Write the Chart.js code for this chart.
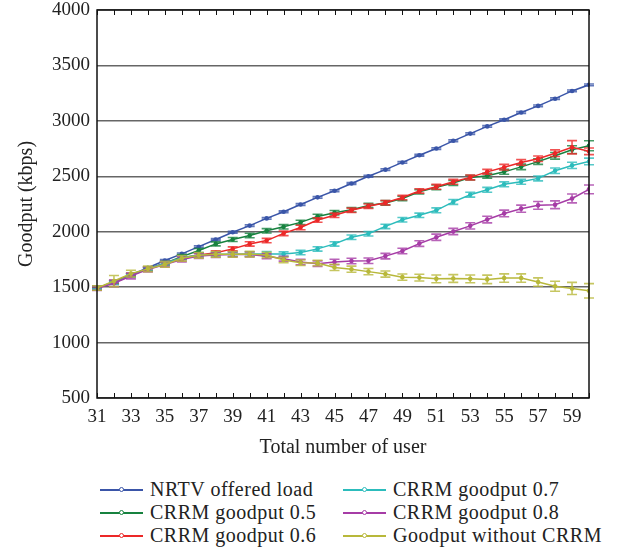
<!DOCTYPE html>
<html>
<head>
<meta charset="utf-8">
<title>Goodput vs users</title>
<script src="https://cdn.jsdelivr.net/npm/chart.js@4/dist/chart.umd.min.js"></script>
<style>
    body { margin: 0; background: #fff; font-family: "Liberation Serif", serif; }
    #wrap { position: relative; width: 637px; height: 558px; }
    #chart-box { position: absolute; left: 0; top: 0; width: 637px; height: 462px; }
    #legend {
        position: absolute; left: 100px; top: 478px;
        display: grid; grid-template-columns: 243px 260px;
        grid-template-rows: repeat(3, 23px); grid-auto-flow: column;
    }
    .item { display: flex; align-items: center; font-size: 20px; letter-spacing: 0.5px; color: #222; white-space: nowrap; }
    .swatch { position: relative; width: 43px; height: 2px; margin-right: 7px; }
    .swatch i {
        position: absolute; left: 19px; top: -2px; width: 3px; height: 3px;
        border-radius: 50%; border: 1.5px solid; background: #fff;
    }
</style>
</head>
<body>
<div id="wrap">
    <div id="chart-box"><canvas id="lineChart"></canvas></div>
    <div id="legend"></div>
</div>
<script>
// Data
const users = [31, 32, 33, 34, 35, 36, 37, 38, 39, 40, 41, 42, 43, 44, 45,
               46, 47, 48, 49, 50, 51, 52, 53, 54, 55, 56, 57, 58, 59, 60];

const nrtvLoad = [1490, 1550, 1610, 1675, 1740, 1800, 1865, 1930, 1995, 2055, 2120, 2180, 2245, 2310, 2370,
                  2435, 2500, 2560, 2625, 2690, 2750, 2820, 2885, 2950, 3010, 3075, 3135, 3200, 3270, 3325];
const crrm05 = [1490, 1545, 1610, 1665, 1715, 1775, 1830, 1890, 1930, 1966, 2008, 2044, 2084, 2138, 2172,
                2198, 2237, 2260, 2300, 2360, 2400, 2440, 2488, 2505, 2540, 2585, 2632, 2685, 2740, 2775];
const crrm06 = [1490, 1545, 1610, 1665, 1715, 1765, 1790, 1810, 1845, 1890, 1920, 1985, 2038, 2105, 2148,
                2193, 2230, 2262, 2308, 2368, 2405, 2450, 2490, 2540, 2582, 2625, 2658, 2708, 2762, 2725];
const crrm07 = [1495, 1540, 1605, 1665, 1715, 1765, 1790, 1797, 1797, 1799, 1800, 1798, 1812, 1845, 1890,
                1950, 1982, 2048, 2108, 2148, 2193, 2269, 2334, 2378, 2428, 2450, 2481, 2550, 2598, 2634];
const crrm08 = [1490, 1535, 1600, 1660, 1705, 1750, 1780, 1790, 1795, 1795, 1778, 1757, 1727, 1712, 1727,
                1736, 1738, 1780, 1826, 1893, 1950, 2002, 2053, 2110, 2165, 2208, 2238, 2243, 2300, 2382];
const noCrrm = [1492, 1555, 1622, 1665, 1705, 1760, 1787, 1796, 1796, 1798, 1790, 1745, 1720, 1718, 1678,
                1662, 1640, 1618, 1590, 1586, 1575, 1578, 1575, 1570, 1582, 1582, 1546, 1508, 1488, 1467];

// Error bar half widths
const nrtvErr = [8, 8, 8, 8, 8, 8, 8, 8, 8, 8, 8, 8, 8, 8, 8,
                 8, 8, 8, 8, 8, 8, 8, 8, 8, 8, 8, 8, 8, 8, 8];
const crrm05Err = [15, 15, 15, 15, 15, 18, 18, 18, 18, 20, 20, 20, 20, 20, 20,
                   20, 20, 20, 20, 20, 22, 22, 22, 22, 22, 25, 25, 30, 35, 45];
const crrm06Err = [15, 15, 15, 15, 15, 18, 18, 18, 18, 20, 20, 20, 20, 20, 20,
                   20, 20, 20, 20, 20, 22, 22, 22, 22, 25, 25, 25, 30, 60, 30];
const crrm07Err = [15, 15, 15, 15, 15, 18, 18, 18, 18, 20, 20, 20, 20, 20, 20,
                   20, 20, 20, 20, 20, 22, 22, 22, 22, 22, 22, 22, 25, 28, 30];
const crrm08Err = [20, 30, 25, 22, 22, 22, 22, 22, 22, 22, 22, 22, 25, 25, 25,
                   25, 25, 25, 25, 25, 28, 28, 28, 30, 30, 32, 35, 35, 40, 40];
const noCrrmErr = [20, 50, 30, 25, 25, 25, 25, 25, 25, 25, 25, 25, 25, 25, 28,
                   28, 28, 28, 28, 30, 35, 35, 35, 38, 38, 38, 38, 45, 55, 65];

const seriesNames = ['NRTV offered load', 'CRRM goodput 0.5', 'CRRM goodput 0.6',
                     'CRRM goodput 0.7', 'CRRM goodput 0.8', 'Goodput without CRRM'];
const seriesColors = ['#3a55a8', '#17823f', '#ec2828', '#2cbcbc', '#a63ca6', '#b8b83a'];

const xTickLabels = [31, 33, 35, 37, 39, 41, 43, 45, 47, 49, 51, 53, 55, 57, 59];
const yTickLabels = [500, 1000, 1500, 2000, 2500, 3000, 3500, 4000];

const seriesValues = [nrtvLoad, crrm05, crrm06, crrm07, crrm08, noCrrm];
const seriesErrors = [nrtvErr, crrm05Err, crrm06Err, crrm07Err, crrm08Err, noCrrmErr];

// Error bars, drawn right after each line so the stacking matches
const errorBars = {
    id: 'errorBars',
    afterDatasetDraw(chart, args) {
        const ds = chart.data.datasets[args.index];
        const { ctx, scales } = chart;
        ctx.save();
        ctx.strokeStyle = ds.borderColor;
        ctx.globalAlpha = 0.8;
        ctx.lineWidth = 1.6;
        ds.data.forEach((p, j) => {
            const px = scales.x.getPixelForValue(p.x);
            const top = scales.y.getPixelForValue(p.y + ds.errors[j]);
            const bot = scales.y.getPixelForValue(p.y - ds.errors[j]);
            ctx.beginPath();
            ctx.moveTo(px, top); ctx.lineTo(px, bot);
            ctx.moveTo(px - 5, top); ctx.lineTo(px + 5, top);
            ctx.moveTo(px - 5, bot); ctx.lineTo(px + 5, bot);
            ctx.stroke();
        });
        ctx.restore();
    }
};

// Box around the plot and the small inward ticks on top and bottom
const frame = {
    id: 'frame',
    afterDraw(chart) {
        const { ctx, chartArea: a, scales } = chart;
        ctx.save();
        ctx.strokeStyle = '#111';
        ctx.lineWidth = 1.5;
        ctx.strokeRect(a.left, a.top, a.right - a.left, a.bottom - a.top);
        ctx.lineWidth = 1;
        ctx.beginPath();
        users.forEach(u => {
            const px = Math.round(scales.x.getPixelForValue(u)) + 0.5;
            ctx.moveTo(px, a.bottom); ctx.lineTo(px, a.bottom - 5);
            ctx.moveTo(px, a.top); ctx.lineTo(px, a.top + 5);
        });
        ctx.stroke();
        ctx.restore();
    }
};

const tickFont = { family: '"Liberation Serif", serif', size: 19 };
const titleFont = { family: '"Liberation Serif", serif', size: 20 };

document.addEventListener('DOMContentLoaded', function() {
    const datasets = seriesNames.map((name, i) => ({
        label: name,
        data: users.map((u, j) => ({ x: u, y: seriesValues[i][j] })),
        errors: seriesErrors[i],
        borderColor: seriesColors[i],
        backgroundColor: seriesColors[i],
        borderWidth: 1.5,
        pointRadius: 2.3,
        pointBorderWidth: 0,
        order: 6 - i
    }));

    const chart = new Chart(document.getElementById('lineChart'), {
        type: 'line',
        data: { datasets: datasets },
        options: {
            responsive: true,
            maintainAspectRatio: false,
            animation: false,
            layout: { padding: { top: 10, right: 48, left: 0, bottom: 0 } },
            plugins: { legend: { display: false }, tooltip: { enabled: false } },
            scales: {
                x: {
                    type: 'linear', min: 31, max: 60,
                    afterBuildTicks: s => { s.ticks = xTickLabels.map(v => ({ value: v })); },
                    afterFit: s => { s.height = 64; s.paddingLeft = 0; s.paddingRight = 0; },
                    grid: { display: false },
                    border: { display: false },
                    ticks: { font: tickFont, color: '#222', maxRotation: 0, autoSkip: false, padding: 0 },
                    title: { display: true, text: 'Total number of user', font: titleFont, color: '#222', padding: { top: 2, bottom: 2 } }
                },
                y: {
                    min: 500, max: 4000,
                    afterBuildTicks: s => { s.ticks = yTickLabels.map(v => ({ value: v })); },
                    afterFit: s => { s.width = 97; s.paddingTop = 0; s.paddingBottom = 0; },
                    grid: { color: '#666', lineWidth: 1.5, drawTicks: false },
                    border: { display: false },
                    ticks: { font: tickFont, color: '#222', padding: 7, callback: v => String(v) },
                    title: { display: true, text: 'Goodput (kbps)', font: titleFont, color: '#222', padding: { top: 15, bottom: 4 } }
                }
            }
        },
        plugins: [errorBars, frame]
    });

    // Two-column legend built from the datasets
    const legend = document.getElementById('legend');
    chart.data.datasets.forEach(ds => {
        const item = document.createElement('div');
        item.className = 'item';
        item.innerHTML = '<span class="swatch" style="background:' + ds.borderColor + '">' +
            '<i style="border-color:' + ds.borderColor + '"></i></span>' + ds.label;
        legend.appendChild(item);
    });
});
</script>
</body>
</html>
